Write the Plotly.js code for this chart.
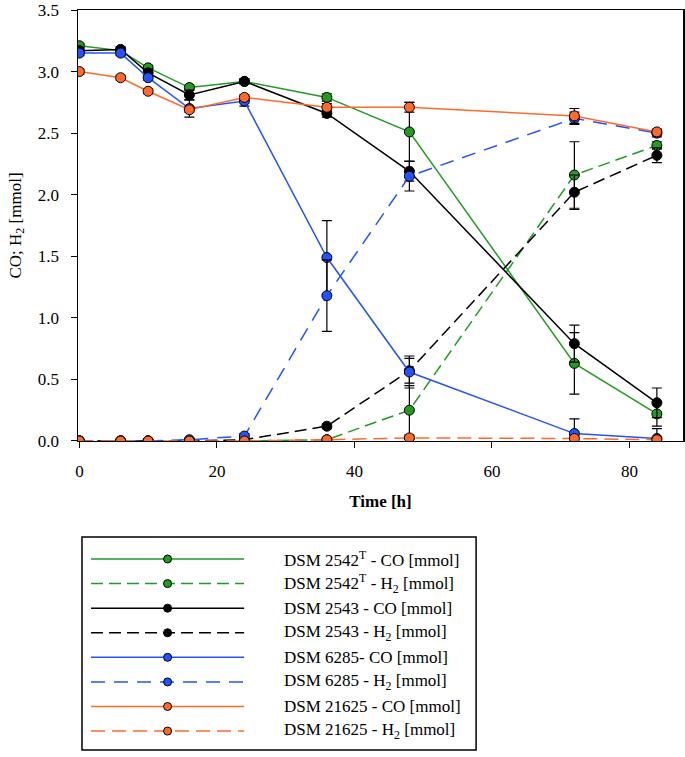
<!DOCTYPE html>
<html>
<head>
<meta charset="utf-8">
<script src="https://cdn.plot.ly/plotly-3.0.1.min.js"></script>
<style>
  body { margin: 0; background: #fff; }
  #plot { width: 685px; height: 757px; }
</style>
</head>
<body>
<div id="plot"></div>
<script>
// sampling times [h]
let timeH = [0, 6, 10, 16, 24, 36, 48, 72, 84];

// DSM 2542T
let co2542 = [3.21, 3.17, 3.03, 2.87, 2.92, 2.79, 2.51, 0.63, 0.22];
let h2_2542 = [0, 0, 0, 0, 0, 0.01, 0.25, 2.16, 2.40];
let coErr2542 = [0.02, 0.02, 0.02, 0.02, 0.02, 0.03, 0.24, 0.25, 0.1];
let h2Err2542 = [null, null, null, null, null, 0.01, 0.2, 0.27, 0.03];

// DSM 2543
let co2543 = [3.17, 3.18, 2.99, 2.81, 2.92, 2.66, 2.19, 0.79, 0.31];
let h2_2543 = [0, 0, 0, 0, 0.01, 0.12, 0.57, 2.02, 2.32];
let coErr2543 = [0.02, 0.02, 0.03, 0.04, 0.02, 0.03, 0.08, 0.15, 0.12];
let h2Err2543 = [null, null, null, null, 0.01, 0.02, 0.1, 0.14, 0.06];

// DSM 6285
let co6285 = [3.15, 3.15, 2.95, 2.70, 2.76, 1.49, 0.56, 0.06, 0.02];
let h2_6285 = [0, 0, 0, 0.01, 0.04, 1.18, 2.15, 2.62, 2.50];
let coErr6285 = [0.02, 0.02, 0.02, 0.07, 0.04, 0.3, 0.13, 0.12, 0.08];
let h2Err6285 = [null, null, null, 0.01, 0.02, 0.29, 0.12, 0.05, 0.03];

// DSM 21625
let co21625 = [3.00, 2.95, 2.84, 2.69, 2.79, 2.71, 2.71, 2.64, 2.51];
let h2_21625 = [0, 0, 0, 0, 0, 0.01, 0.025, 0.02, 0.01];
let coErr21625 = [0.02, 0.02, 0.02, 0.02, 0.02, 0.03, 0.04, 0.06, 0.02];
let h2Err21625 = [null, null, null, null, null, 0.01, 0.01, 0.01, 0.01];

// legend labels (same order as the traces)
let legendLabels = [
    "DSM 2542<sup>T</sup> - CO [mmol]",
    "DSM 2542<sup>T</sup> - H<sub>2</sub> [mmol]",
    "DSM 2543 - CO [mmol]",
    "DSM 2543 - H<sub>2</sub> [mmol]",
    "DSM 6285- CO [mmol]",
    "DSM 6285 - H<sub>2</sub> [mmol]",
    "DSM 21625 - CO [mmol]",
    "DSM 21625 - H<sub>2</sub> [mmol]"
];

let green = "#239a23";
let black = "#000000";
let blue = "#2452ff";
let orange = "#ff6a2c";

let series = [
    {y: co2542, err: coErr2542, color: green, dash: "solid"},
    {y: h2_2542, err: h2Err2542, color: green, dash: "12px,6px"},
    {y: co2543, err: coErr2543, color: black, dash: "solid"},
    {y: h2_2543, err: h2Err2543, color: black, dash: "12px,6px"},
    {y: co6285, err: coErr6285, color: blue, dash: "solid"},
    {y: h2_6285, err: h2Err6285, color: blue, dash: "14px,9px"},
    {y: co21625, err: coErr21625, color: orange, dash: "solid"},
    {y: h2_21625, err: h2Err21625, color: orange, dash: "14px,7px"}
];

let serif = "Liberation Serif";
let traces = [];

// main plot traces
series.forEach((s, i) => {
    traces.push({
        x: timeH,
        y: s.y,
        type: "scatter",
        mode: "lines+markers",
        name: legendLabels[i],
        showlegend: false,
        line: {color: s.color, width: 1.5, dash: s.dash},
        marker: {size: 10, color: s.color, line: {color: "#000", width: 1}},
        error_y: {type: "data", array: s.err, visible: true, color: "#000", thickness: 1.2, width: 5},
        xaxis: "x",
        yaxis: "y"
    });
});

// legend samples drawn on a second axis pair: a line, then a marker in its middle
series.forEach((s, i) => {
    traces.push({
        x: [0, 2],
        y: [i, i],
        type: "scatter",
        mode: "lines",
        showlegend: false,
        hoverinfo: "skip",
        line: {color: s.color, width: 1.5, dash: s.dash},
        xaxis: "x2",
        yaxis: "y2"
    });
    traces.push({
        x: [1],
        y: [i],
        type: "scatter",
        mode: "markers",
        showlegend: false,
        hoverinfo: "skip",
        marker: {size: 8, color: s.color, opacity: 1, line: {color: "#000", width: 1}},
        xaxis: "x2",
        yaxis: "y2"
    });
});

let legendText = legendLabels.map((label, i) => ({
    x: 2.5,
    y: i,
    xref: "x2",
    yref: "y2",
    text: label,
    showarrow: false,
    xanchor: "left",
    yanchor: "middle",
    font: {family: serif, size: 17, color: "#000"}
}));

let layout = {
    width: 685,
    height: 757,
    margin: {l: 78, r: 2, t: 10, b: 6},
    paper_bgcolor: "#fff",
    plot_bgcolor: "#fff",
    showlegend: false,
    font: {family: serif, size: 17, color: "#000"},
    xaxis: {
        domain: [0, 1],
        range: [-0.2, 87.8],
        tickvals: [0, 20, 40, 60, 80],
        ticks: "outside",
        ticklen: 6,
        tickwidth: 1,
        tickcolor: "#000",
        ticklabelstandoff: 8,
        ticklabeloverflow: "allow",
        showline: true,
        linecolor: "#000",
        linewidth: 1.5,
        mirror: true,
        showgrid: false,
        zeroline: false,
        tickfont: {family: serif, size: 17},
        title: {text: "<b>Time [h]</b>", font: {family: serif, size: 17}, standoff: 15}
    },
    yaxis: {
        domain: [0.4184, 1],
        range: [0, 3.5],
        tickvals: [0, 0.5, 1, 1.5, 2, 2.5, 3, 3.5],
        tickformat: ".1f",
        ticks: "outside",
        ticklen: 6,
        tickwidth: 1,
        tickcolor: "#000",
        ticklabelstandoff: 8,
        ticklabeloverflow: "allow",
        showline: true,
        linecolor: "#000",
        linewidth: 1.5,
        mirror: true,
        showgrid: false,
        zeroline: false,
        tickfont: {family: serif, size: 17},
        title: {text: "CO; H<sub>2</sub> [mmol]", font: {family: serif, size: 17}, standoff: 12}
    },
    xaxis2: {
        domain: [0.0066, 0.658],
        anchor: "y2",
        range: [-0.118, 5.03],
        visible: false,
        fixedrange: true
    },
    yaxis2: {
        domain: [0.00135, 0.2888],
        anchor: "x2",
        range: [7.77, -0.895],
        visible: false,
        fixedrange: true
    },
    shapes: [{
        type: "rect",
        xref: "paper",
        yref: "paper",
        x0: 0.0066, x1: 0.658,
        y0: 0.00135, y1: 0.2888,
        line: {color: "#000", width: 1.5},
        fillcolor: "rgba(0,0,0,0)"
    }],
    annotations: legendText
};

Plotly.newPlot("plot", traces, layout, {displayModeBar: false, staticPlot: true});
</script>
</body>
</html>
